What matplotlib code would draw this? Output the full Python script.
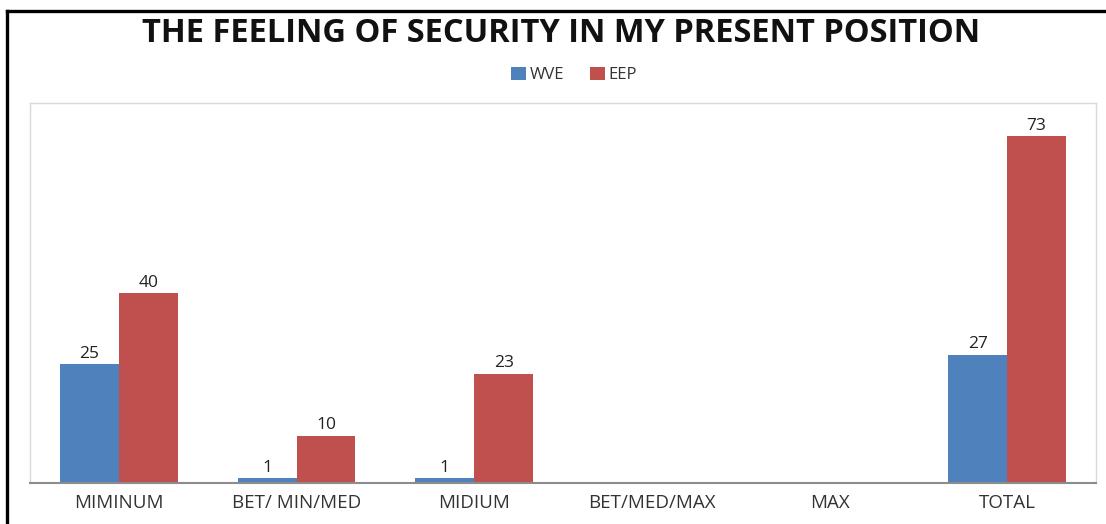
import matplotlib
matplotlib.use("Agg")
import matplotlib.pyplot as plt
from matplotlib.lines import Line2D
import numpy as np

plt.rcParams['font.family'] = ['Open Sans', 'DejaVu Sans']

categories = ["MIMINUM", "BET/ MIN/MED", "MIDIUM", "BET/MED/MAX", "MAX", "TOTAL"]
wve = [25, 1, 1, 0, 0, 27]
eep = [40, 10, 23, 0, 0, 73]
series_names = ["WVE", "EEP"]
colors = ["#4F81BD", "#C0504D"]

fig = plt.figure(figsize=(11.06, 5.24), dpi=100)
ax = fig.add_axes([30 / 1106, 41 / 524, 1066 / 1106, 380 / 524])

x = np.arange(len(categories))
w = 0.332
bars_w = ax.bar(x - w / 2, wve, width=w, color=colors[0], label=series_names[0])
bars_e = ax.bar(x + w / 2, eep, width=w, color=colors[1], label=series_names[1])

for bars, vals in ((bars_w, wve), (bars_e, eep)):
    for b, v in zip(bars, vals):
        if v:
            ax.text(b.get_x() + b.get_width() / 2, v + 0.5, str(v),
                    ha="center", va="bottom", fontsize=12.5, color="#222222")

ax.set_xlim(-0.5, len(categories) - 0.5)
ax.set_ylim(0, 80)
ax.set_yticks([])
ax.set_xticks(x)
ax.set_xticklabels(categories, fontsize=13.5, color="#333333")
ax.tick_params(axis="x", length=0, pad=8)

for side in ("left", "top", "right"):
    ax.spines[side].set_color("#D9D9D9")
    ax.spines[side].set_linewidth(1.0)
ax.spines["bottom"].set_color("#8C8C8C")
ax.spines["bottom"].set_linewidth(1.5)

fig.text(0.507, 1 - 33 / 524, "THE FEELING OF SECURITY IN MY PRESENT POSITION",
         ha="center", va="center", fontsize=23.5, fontweight="bold", color="#111111")

fig.legend(handles=[bars_w, bars_e], labels=series_names, loc="center",
           bbox_to_anchor=(574 / 1106, 1 - 75 / 524), ncol=2, frameon=False,
           fontsize=12, handlelength=0.9, handleheight=0.8, handletextpad=0.25,
           columnspacing=1.5, labelcolor="#333333")

# outer frame
fig.add_artist(Line2D([7 / 1106, 7 / 1106], [0, 1 - 11 / 524],
                      transform=fig.transFigure, color="black", linewidth=2.4,
                      solid_capstyle="projecting"))
fig.add_artist(Line2D([7 / 1106, 1.0], [1 - 11 / 524, 1 - 11 / 524],
                      transform=fig.transFigure, color="black", linewidth=2.4,
                      solid_capstyle="projecting"))

fig.savefig("out.png", dpi=100, facecolor="white")
